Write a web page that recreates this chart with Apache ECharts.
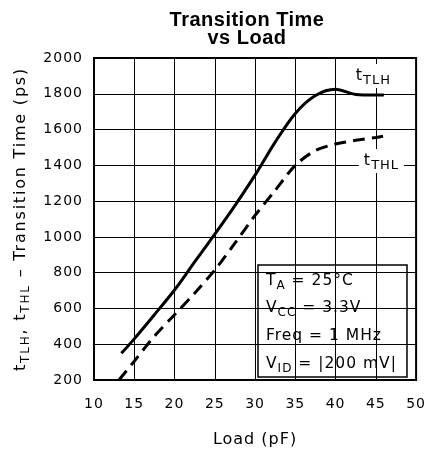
<!DOCTYPE html>
<html><head><meta charset="utf-8">
<script src="https://cdn.jsdelivr.net/npm/echarts@6/dist/echarts.min.js"></script>
<style>html,body{margin:0;padding:0;background:#fff}#c{width:429px;height:455px}</style>
</head><body><div id="c"></div>
<script>
// Data
const loadTLH = [13.4, 15, 17.5, 20, 22.5, 25, 27.5, 30, 32.5, 35, 37.5, 40, 42.5, 45, 46];
const tTLH    = [349, 430, 565, 703, 860, 1015, 1175, 1345, 1530, 1690, 1790, 1825, 1796, 1793, 1793];
const loadTHL = [13.1, 15, 17.5, 20, 22.5, 25, 27.5, 30, 32.5, 35, 37.5, 40, 42.5, 45, 45.9];
const tTHL    = [200, 305, 445, 565, 685, 815, 965, 1120, 1260, 1400, 1483, 1519, 1540, 1556, 1562];
const xTicks = [10, 15, 20, 25, 30, 35, 40, 45, 50];
const yTicks = [200, 400, 600, 800, 1000, 1200, 1400, 1600, 1800, 2000];
const conditions = ['{m|T}{s|A}{m| = 25°C}', '{m|V}{s|CC}{m| = 3.3V}', '{m|Freq = 1 MHz}{s| }', '{m|V}{s|ID}{m| = |200 mV|}'];

// plotter-like letter spacing, keyed on fallback family names
(function () {
  const P = window.CanvasRenderingContext2D && CanvasRenderingContext2D.prototype;
  if (!P) return;
  const d = Object.getOwnPropertyDescriptor(P, 'font');
  if (!d || !('letterSpacing' in P)) return;
  Object.defineProperty(P, 'font', {
    configurable: true,
    get() { return d.get.call(this); },
    set(v) {
      d.set.call(this, v);
      let ls = '0px';
      if (/Tahoma/.test(v)) ls = '1.8px';
      else if (/Verdana/.test(v)) ls = '1px';
      else if (/Helvetica/.test(v)) ls = '0.5px';
      this.letterSpacing = ls;
    }
  });
})();

const FS = '"DejaVu Sans", Verdana, sans-serif';
const FY = '"DejaVu Sans", Tahoma, sans-serif';
const mkRich = (fam, main, sub, pad) => ({
  m: {fontSize: main, fontFamily: fam, color: '#000'},
  s: {fontSize: sub, fontFamily: fam, color: '#000', padding: [pad, 0, 0, 0]}
});
const chart = echarts.init(document.getElementById('c'), null, {renderer: 'canvas'});
const xStep = xTicks[1] - xTicks[0], yStep = yTicks[1] - yTicks[0];
const labelCfg = (txt) => ({
  show: true, position: 'inside', formatter: txt, backgroundColor: '#fff',
  padding: [0, 5, 0, 5], rich: mkRich(FS, 16, 13, 10), color: '#000'
});
chart.setOption({
  animation: false,
  grid: {left: 94, right: 12, top: 58, bottom: 75, show: true, borderColor: '#000', borderWidth: 2, backgroundColor: 'transparent'},
  xAxis: {
    type: 'value', min: xTicks[0], max: xTicks[xTicks.length - 1], interval: xStep,
    name: 'Load (pF)', nameLocation: 'middle', nameGap: 51,
    nameTextStyle: {fontSize: 16, fontFamily: FS, color: '#000'},
    axisLine: {show: true, lineStyle: {color: '#000', width: 2}},
    axisTick: {show: false},
    axisLabel: {fontSize: 14, fontFamily: FS, color: '#000', margin: 17, formatter: v => String(v)},
    splitLine: {show: true, lineStyle: {color: '#000', width: 1}}
  },
  yAxis: {
    type: 'value', min: yTicks[0], max: yTicks[yTicks.length - 1], interval: yStep,
    name: '{m|t}{s|TLH}{m|, t}{s|THL}{m| – Transition Time (ps)}', nameLocation: 'middle', nameGap: 43,
    nameTextStyle: {fontSize: 16, fontFamily: FY, color: '#000', rich: mkRich(FY, 16, 12, 10)},
    axisLine: {show: true, lineStyle: {color: '#000', width: 2}},
    axisTick: {show: false},
    axisLabel: {fontSize: 14, fontFamily: FS, color: '#000', margin: 11, formatter: v => String(v)},
    splitLine: {show: true, lineStyle: {color: '#000', width: 1}}
  },
  series: [
    {
      type: 'line', smooth: 0.3, showSymbol: false, z: 5,
      data: loadTLH.map((x, i) => [x, tTLH[i]]),
      lineStyle: {color: '#000', width: 3},
      markPoint: {
        symbol: 'rect', symbolSize: 1, itemStyle: {color: 'rgba(0,0,0,0)'},
        label: labelCfg('{m|t}{s|TLH}'),
        data: [{coord: [44.7, 1899]}]
      }
    },
    {
      type: 'line', smooth: 0.3, showSymbol: false, z: 5,
      data: loadTHL.map((x, i) => [x, tTHL[i]]),
      lineStyle: {color: '#000', width: 3, type: [12, 7]},
      markPoint: {
        symbol: 'rect', symbolSize: 1, itemStyle: {color: 'rgba(0,0,0,0)'},
        label: labelCfg('{m|t}{s|THL}'),
        data: [{coord: [45.7, 1424]}]
      }
    }
  ],
  graphic: [
    {
      type: 'text', x: 247, y: 11, z: 10,
      style: {text: 'Transition Time\nvs Load', textAlign: 'center', textVerticalAlign: 'top',
              font: 'bold 20px "Liberation Sans", Helvetica, sans-serif', lineHeight: 18, fill: '#000'}
    },
    {
      type: 'group', x: 258, y: 265, z: 10,
      children: [
        {type: 'rect', shape: {x: 0, y: 0, width: 149, height: 112}, style: {fill: '#fff', stroke: '#000', lineWidth: 1.5}}
      ].concat(conditions.map((t, i) => ({
        type: 'text', x: 8, y: 4 + i * 27.8,
        style: {text: t, rich: mkRich(FS, 15.5, 12, 10), textVerticalAlign: 'top', fill: '#000'}
      })))
    }
  ]
});
</script></body></html>
